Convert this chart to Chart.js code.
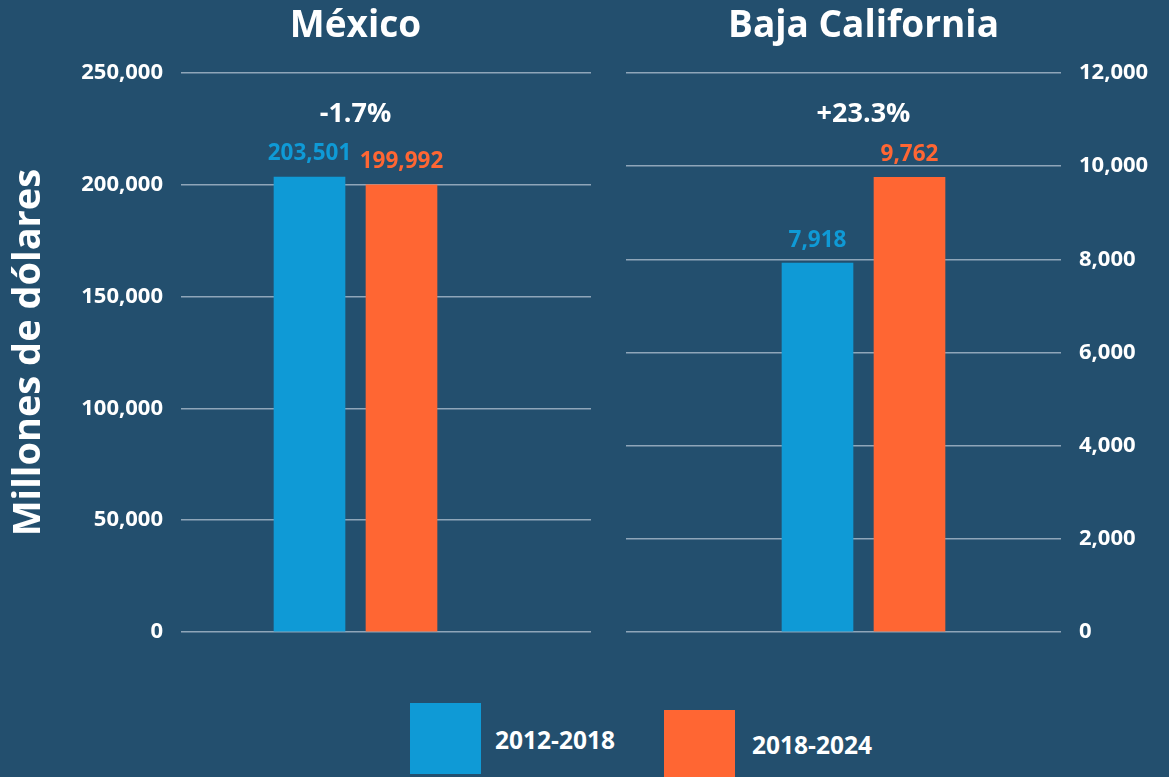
<!DOCTYPE html>
<html>
<head>
<meta charset="utf-8">
<script src="https://cdn.jsdelivr.net/npm/chart.js@4.4.1/dist/chart.umd.min.js"></script>
<style>
  html, body { margin: 0; padding: 0; background: #234f6e; }
  body { width: 1169px; height: 777px; position: relative; overflow: hidden; font-family: "Open Sans", sans-serif; }
  #left { position: absolute; left: 0; top: 0; }
  #right { position: absolute; left: 600px; top: 0; }
  .sw { position: absolute; width: 71px; height: 71px; }
  .lt { position: absolute; color: #fff; font-weight: 700; font-size: 24.5px; line-height: 30px; }
</style>
</head>
<body>
<canvas id="left" width="600" height="665"></canvas>
<canvas id="right" width="569" height="665"></canvas>
<div id="legend"></div>
<script>
// series names and colours
const seriesNames = ['2012-2018', '2018-2024'];
const seriesColors = ['#0f9ad6', '#ff6633'];

// values, millions of dollars
const mexicoValues = [203501, 199992];
const bajaValues = [7918, 9762];

// tick settings
const mexicoMax = 250000, mexicoStep = 50000;
const bajaMax = 12000, bajaStep = 2000;

const gridColor = '#8fa6b9';
const fmt = v => v.toLocaleString('en-US');

// panel title, value labels above bars, change percent over the group
const labelPlugin = {
  id: 'labels',
  afterDatasetsDraw(chart, args, opts) {
    const ctx = chart.ctx;
    const xs = [];
    const vals = [];
    ctx.save();
    ctx.textAlign = 'center';
    ctx.textBaseline = 'middle';
    ctx.font = '700 22.5px "Open Sans"';
    chart.data.datasets.forEach((ds, i) => {
      const bar = chart.getDatasetMeta(i).data[0];
      ctx.fillStyle = ds.backgroundColor;
      ctx.fillText(fmt(ds.data[0].y), bar.x, bar.y - 23);
      xs.push(bar.x);
      vals.push(ds.data[0].y);
    });
    const cx = (xs[0] + xs[1]) / 2;
    const pct = (vals[1] / vals[0] - 1) * 100;
    const txt = (pct >= 0 ? '+' : '') + pct.toFixed(1) + '%';
    ctx.fillStyle = '#fff';
    ctx.font = '700 27px "Open Sans"';
    ctx.fillText(txt, cx, chart.chartArea.top + 41);
    // panel title
    ctx.textBaseline = 'alphabetic';
    ctx.font = '700 37px "Open Sans"';
    ctx.fillText(opts.title, cx, 37);
    ctx.restore();
  }
};

function makeChart(id, title, values, max, step, side, xMin, xMax, axisWidth, pad) {
  const datasets = seriesNames.map((name, i) => ({
    label: name,
    data: [{ x: i, y: values[i] }],
    backgroundColor: seriesColors[i],
    barThickness: 71,
    grouped: false
  }));
  const yTitle = side === 'left'
    ? { display: true, text: 'Millones de dólares', color: '#fff', font: { size: 38, weight: '700', family: 'Open Sans' }, padding: { top: 6, bottom: 0 } }
    : { display: false };
  return new Chart(document.getElementById(id), {
    type: 'bar',
    data: { datasets },
    options: {
      responsive: false,
      animation: false,
      layout: { padding: pad },
      plugins: {
        legend: { display: false },
        tooltip: { enabled: false },
        labels: { title: title }
      },
      scales: {
        x: { type: 'linear', display: false, offset: false, min: xMin, max: xMax },
        y: {
          position: side,
          min: 0,
          max: max,
          afterFit(scale) { scale.width = axisWidth; },
          border: { display: false },
          grid: { color: gridColor, lineWidth: 1.5, drawTicks: false },
          ticks: {
            stepSize: step,
            padding: 18,
            color: '#fff',
            font: { size: 22, weight: '700', family: 'Open Sans' },
            callback: v => fmt(v)
          },
          title: yTitle
        }
      }
    },
    plugins: [labelPlugin]
  });
}

// left panel: chart area 181..591, bars centred at 309.5 and 401.5
makeChart('left', 'México', mexicoValues, mexicoMax, mexicoStep, 'left',
  -128.5 / 92, (410 - 128.5) / 92, 181, { top: 73, right: 9, bottom: 33, left: 0 });
// right panel: chart area 626..1061, bars centred at 817.5 and 909.5
makeChart('right', 'Baja California', bajaValues, bajaMax, bajaStep, 'right',
  -191.5 / 92, (435 - 191.5) / 92, 108, { top: 73, right: 0, bottom: 33, left: 26 });

// legend
const legend = document.getElementById('legend');
const legendPos = [
  { box: [410, 703], text: [495, 725] },
  { box: [664, 710], text: [752, 730] }
];
seriesNames.forEach((name, i) => {
  const sw = document.createElement('div');
  sw.className = 'sw';
  sw.style.left = legendPos[i].box[0] + 'px';
  sw.style.top = legendPos[i].box[1] + 'px';
  sw.style.background = seriesColors[i];
  legend.appendChild(sw);
  const t = document.createElement('div');
  t.className = 'lt';
  t.style.left = legendPos[i].text[0] + 'px';
  t.style.top = legendPos[i].text[1] + 'px';
  t.textContent = name;
  legend.appendChild(t);
});
</script>
</body>
</html>
